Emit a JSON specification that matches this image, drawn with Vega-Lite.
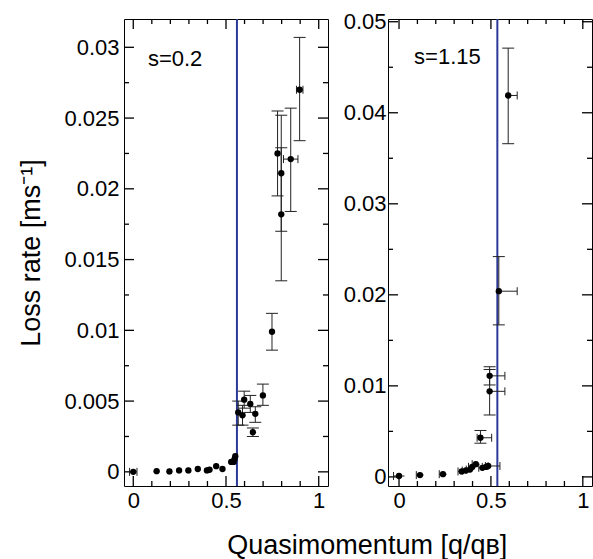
{
  "$schema": "https://vega.github.io/schema/vega-lite/v6.json",
  "padding": {"left": 17, "top": 10, "right": 0, "bottom": 0},
  "background": "white",
  "config": {
    "view": {"stroke": null},
    "font": "Liberation Sans",
    "rule": {"color": "black", "strokeWidth": 1.3},
    "axis": {"domainColor": "black", "tickColor": "black", "tickOpacity": 0, "labelColor": "black", "labelFont": "Liberation Sans", "labelFontSize": 22, "titleFont": "Liberation Sans", "titleFontSize": 27, "titleFontWeight": "normal", "titleColor": "black", "grid": false, "labelOverlap": false, "labelFlush": false, "labelBound": false}
  },
  "datasets": {
    "xt": [{"t": 0}, {"t": 0.1}, {"t": 0.2}, {"t": 0.3}, {"t": 0.4}, {"t": 0.5}, {"t": 0.6}, {"t": 0.7}, {"t": 0.8}, {"t": 0.9}, {"t": 1}],
    "ylt": [{"t": 0}, {"t": 0.0025}, {"t": 0.005}, {"t": 0.0075}, {"t": 0.01}, {"t": 0.0125}, {"t": 0.015}, {"t": 0.0175}, {"t": 0.02}, {"t": 0.0225}, {"t": 0.025}, {"t": 0.0275}, {"t": 0.03}],
    "yrt": [{"t": 0}, {"t": 0.005}, {"t": 0.01}, {"t": 0.015}, {"t": 0.02}, {"t": 0.025}, {"t": 0.03}, {"t": 0.035}, {"t": 0.04}, {"t": 0.045}, {"t": 0.05}],
    "left": [
      {"q": 0, "r": 0, "rlo": -0.0002, "rhi": 0.0002, "qlo": -0.02, "qhi": 0.02},
      {"q": 0.126, "r": 0.00005, "rlo": -0.00015, "rhi": 0.00025, "qlo": 0.11, "qhi": 0.142},
      {"q": 0.195, "r": 0.00003, "rlo": -0.00017, "rhi": 0.00023, "qlo": 0.18, "qhi": 0.21},
      {"q": 0.247, "r": 0.0001, "rlo": -0.0001, "rhi": 0.0003, "qlo": 0.232, "qhi": 0.262},
      {"q": 0.297, "r": 0.0001, "rlo": -0.0001, "rhi": 0.0003, "qlo": 0.282, "qhi": 0.312},
      {"q": 0.348, "r": 0.0002, "rlo": 0, "rhi": 0.0004, "qlo": 0.333, "qhi": 0.363},
      {"q": 0.397, "r": 0.0001, "rlo": -0.0001, "rhi": 0.0003, "qlo": 0.382, "qhi": 0.412},
      {"q": 0.411, "r": 0.00015, "rlo": -0.00005, "rhi": 0.00035, "qlo": 0.396, "qhi": 0.426},
      {"q": 0.447, "r": 0.0004, "rlo": 0.0002, "rhi": 0.0006, "qlo": 0.432, "qhi": 0.462},
      {"q": 0.481, "r": 0.0002, "rlo": 0, "rhi": 0.0004, "qlo": 0.466, "qhi": 0.496},
      {"q": 0.528, "r": 0.0007, "rlo": 0.0005, "rhi": 0.0009, "qlo": 0.513, "qhi": 0.543},
      {"q": 0.541, "r": 0.0007, "rlo": 0.0005, "rhi": 0.0009, "qlo": 0.526, "qhi": 0.556},
      {"q": 0.546, "r": 0.0009, "rlo": 0.0007, "rhi": 0.0011, "qlo": 0.531, "qhi": 0.561},
      {"q": 0.55, "r": 0.0011, "rlo": 0.0009, "rhi": 0.0013, "qlo": 0.535, "qhi": 0.565},
      {"q": 0.566, "r": 0.0042, "rlo": 0.0033, "rhi": 0.005, "qlo": 0.551, "qhi": 0.581},
      {"q": 0.589, "r": 0.004, "rlo": 0.0033, "rhi": 0.0047, "qlo": 0.574, "qhi": 0.604},
      {"q": 0.598, "r": 0.0051, "rlo": 0.0045, "rhi": 0.0057, "qlo": 0.583, "qhi": 0.613},
      {"q": 0.631, "r": 0.0048, "rlo": 0.0042, "rhi": 0.0054, "qlo": 0.616, "qhi": 0.646},
      {"q": 0.658, "r": 0.0041, "rlo": 0.0035, "rhi": 0.0046, "qlo": 0.643, "qhi": 0.673},
      {"q": 0.645, "r": 0.0028, "rlo": 0.0025, "rhi": 0.0031, "qlo": 0.63, "qhi": 0.66},
      {"q": 0.699, "r": 0.0054, "rlo": 0.0047, "rhi": 0.0062, "qlo": 0.684, "qhi": 0.714},
      {"q": 0.748, "r": 0.0099, "rlo": 0.0086, "rhi": 0.0112, "qlo": 0.735, "qhi": 0.761},
      {"q": 0.778, "r": 0.0225, "rlo": 0.0195, "rhi": 0.0255, "qlo": 0.765, "qhi": 0.791},
      {"q": 0.798, "r": 0.0211, "rlo": 0.017, "rhi": 0.0252, "qlo": 0.785, "qhi": 0.811},
      {"q": 0.798, "r": 0.0182, "rlo": 0.0135, "rhi": 0.0229, "qlo": 0.785, "qhi": 0.811},
      {"q": 0.849, "r": 0.0221, "rlo": 0.0184, "rhi": 0.0257, "qlo": 0.81, "qhi": 0.888},
      {"q": 0.897, "r": 0.027, "rlo": 0.0234, "rhi": 0.0307, "qlo": 0.88, "qhi": 0.915}
    ],
    "right": [
      {"q": 0, "r": 0.0001, "rlo": -0.0002, "rhi": 0.0004, "qlo": -0.03, "qhi": 0.03},
      {"q": 0.114, "r": 0.0002, "rlo": -0.0001, "rhi": 0.0005, "qlo": 0.094, "qhi": 0.134},
      {"q": 0.239, "r": 0.0003, "rlo": 0, "rhi": 0.0006, "qlo": 0.219, "qhi": 0.259},
      {"q": 0.341, "r": 0.0006, "rlo": 0.0003, "rhi": 0.0009, "qlo": 0.321, "qhi": 0.361},
      {"q": 0.364, "r": 0.0007, "rlo": 0.0004, "rhi": 0.001, "qlo": 0.344, "qhi": 0.384},
      {"q": 0.386, "r": 0.0008, "rlo": 0.0005, "rhi": 0.0011, "qlo": 0.366, "qhi": 0.406},
      {"q": 0.398, "r": 0.0011, "rlo": 0.0008, "rhi": 0.0014, "qlo": 0.378, "qhi": 0.418},
      {"q": 0.418, "r": 0.0014, "rlo": 0.0011, "rhi": 0.0017, "qlo": 0.398, "qhi": 0.438},
      {"q": 0.454, "r": 0.001, "rlo": 0.0007, "rhi": 0.0013, "qlo": 0.434, "qhi": 0.474},
      {"q": 0.473, "r": 0.0011, "rlo": 0.0008, "rhi": 0.0014, "qlo": 0.453, "qhi": 0.493},
      {"q": 0.485, "r": 0.0012, "rlo": 0.0008, "rhi": 0.0016, "qlo": 0.47, "qhi": 0.549},
      {"q": 0.443, "r": 0.0043, "rlo": 0.0037, "rhi": 0.0051, "qlo": 0.425, "qhi": 0.504},
      {"q": 0.493, "r": 0.0094, "rlo": 0.0068, "rhi": 0.0118, "qlo": 0.493, "qhi": 0.576},
      {"q": 0.493, "r": 0.0111, "rlo": 0.0101, "rhi": 0.0121, "qlo": 0.493, "qhi": 0.576},
      {"q": 0.543, "r": 0.0204, "rlo": 0.0167, "rhi": 0.0242, "qlo": 0.543, "qhi": 0.643},
      {"q": 0.594, "r": 0.0419, "rlo": 0.0366, "rhi": 0.0471, "qlo": 0.594, "qhi": 0.643}
    ]
  },
  "title": {"text": "Quasimomentum [q/qʙ]", "orient": "bottom", "anchor": "middle", "frame": "bounds", "dx": 62, "offset": 17, "fontSize": 27, "fontWeight": "normal", "font": "Liberation Sans", "color": "black"},
  "spacing": 14,
  "hconcat": [
    {
      "width": 204, "height": 467,
      "data": {"name": "left"},
      "resolve": {"axis": {"x": "independent", "y": "independent"}},
      "layer": [
        {
          "mark": {"type": "rule", "color": "#2b3a99", "strokeWidth": 2},
          "data": {"values": [{"qc": 0.559}]},
          "encoding": {
            "x": {"field": "qc", "type": "quantitative", "scale": {"domain": [-0.05, 1.05], "nice": false, "zero": false},
              "axis": {"orient": "top", "values": [0,0.1,0.2,0.3,0.4,0.5,0.6,0.7,0.8,0.9,1], "labels": false, "title": null, "tickSize": -8}}
          }
        },
        {"data": {"name": "xt"}, "transform": [{"filter": "indexof([0,0.5,1], datum.t) >= 0"}],
          "mark": {"type": "rule", "y2Offset": -10},
          "encoding": {"x": {"field": "t", "type": "quantitative", "axis": null}, "y": {"datum": -0.001, "type": "quantitative", "axis": null}, "y2": {"datum": -0.001}}},
        {"data": {"name": "xt"}, "transform": [{"filter": "indexof([0,0.5,1], datum.t) < 0"}],
          "mark": {"type": "rule", "y2Offset": -5},
          "encoding": {"x": {"field": "t", "type": "quantitative", "axis": null}, "y": {"datum": -0.001, "type": "quantitative", "axis": null}, "y2": {"datum": -0.001}}},
        {"data": {"name": "xt"}, "transform": [{"filter": "indexof([0,0.5,1], datum.t) >= 0"}],
          "mark": {"type": "rule", "y2Offset": 10},
          "encoding": {"x": {"field": "t", "type": "quantitative", "axis": null}, "y": {"datum": 0.032, "type": "quantitative", "axis": null}, "y2": {"datum": 0.032}}},
        {"data": {"name": "xt"}, "transform": [{"filter": "indexof([0,0.5,1], datum.t) < 0"}],
          "mark": {"type": "rule", "y2Offset": 5},
          "encoding": {"x": {"field": "t", "type": "quantitative", "axis": null}, "y": {"datum": 0.032, "type": "quantitative", "axis": null}, "y2": {"datum": 0.032}}},
        {"data": {"name": "ylt"}, "transform": [{"filter": "indexof([0,0.005,0.01,0.015,0.02,0.025,0.03], datum.t) >= 0"}],
          "mark": {"type": "rule", "x2Offset": 10},
          "encoding": {"y": {"field": "t", "type": "quantitative", "axis": null}, "x": {"datum": -0.05, "type": "quantitative", "axis": null}, "x2": {"datum": -0.05}}},
        {"data": {"name": "ylt"}, "transform": [{"filter": "indexof([0,0.005,0.01,0.015,0.02,0.025,0.03], datum.t) < 0"}],
          "mark": {"type": "rule", "x2Offset": 5},
          "encoding": {"y": {"field": "t", "type": "quantitative", "axis": null}, "x": {"datum": -0.05, "type": "quantitative", "axis": null}, "x2": {"datum": -0.05}}},
        {"data": {"name": "ylt"}, "transform": [{"filter": "indexof([0,0.005,0.01,0.015,0.02,0.025,0.03], datum.t) >= 0"}],
          "mark": {"type": "rule", "x2Offset": -10},
          "encoding": {"y": {"field": "t", "type": "quantitative", "axis": null}, "x": {"datum": 1.05, "type": "quantitative", "axis": null}, "x2": {"datum": 1.05}}},
        {"data": {"name": "ylt"}, "transform": [{"filter": "indexof([0,0.005,0.01,0.015,0.02,0.025,0.03], datum.t) < 0"}],
          "mark": {"type": "rule", "x2Offset": -5},
          "encoding": {"y": {"field": "t", "type": "quantitative", "axis": null}, "x": {"datum": 1.05, "type": "quantitative", "axis": null}, "x2": {"datum": 1.05}}},
        {
          "mark": {"type": "rule", "color": "#222", "strokeWidth": 1},
          "encoding": {
            "x": {"field": "q", "type": "quantitative", "axis": null},
            "y": {"field": "rlo", "type": "quantitative", "axis": null},
            "y2": {"field": "rhi"}
          }
        },
        {
          "mark": {"type": "rule", "color": "#222", "strokeWidth": 1},
          "encoding": {
            "y": {"field": "r", "type": "quantitative", "axis": null},
            "x": {"field": "qlo", "type": "quantitative", "axis": null},
            "x2": {"field": "qhi"}
          }
        },
        {
          "transform": [{"filter": "datum.rhi - datum.rlo > 0.0005"}],
          "mark": {"type": "rule", "color": "#222", "strokeWidth": 1, "xOffset": -6, "x2Offset": 6},
          "encoding": {
            "x": {"field": "q", "type": "quantitative", "axis": null},
            "x2": {"field": "q"},
            "y": {"field": "rlo", "type": "quantitative", "axis": null}
          }
        },
        {
          "transform": [{"filter": "datum.rhi - datum.rlo > 0.0005"}],
          "mark": {"type": "rule", "color": "#222", "strokeWidth": 1, "xOffset": -6, "x2Offset": 6},
          "encoding": {
            "x": {"field": "q", "type": "quantitative", "axis": null},
            "x2": {"field": "q"},
            "y": {"field": "rhi", "type": "quantitative", "axis": null}
          }
        },
        {
          "transform": [{"filter": "datum.qhi - datum.qlo > 0.032"}],
          "mark": {"type": "rule", "color": "#222", "strokeWidth": 1, "yOffset": -4, "y2Offset": 4},
          "encoding": {
            "x": {"field": "qhi", "type": "quantitative", "axis": null},
            "y": {"field": "r", "type": "quantitative", "axis": null},
            "y2": {"field": "r"}
          }
        },
        {
          "transform": [{"filter": "datum.qhi - datum.qlo > 0.032"}],
          "mark": {"type": "rule", "color": "#222", "strokeWidth": 1, "yOffset": -4, "y2Offset": 4},
          "encoding": {
            "x": {"field": "qlo", "type": "quantitative", "axis": null},
            "y": {"field": "r", "type": "quantitative", "axis": null},
            "y2": {"field": "r"}
          }
        },
        {
          "mark": {"type": "text", "text": "s=0.2", "fontSize": 22, "align": "left", "baseline": "middle", "color": "black"},
          "data": {"values": [{"lq": 0.079, "lr": 0.0292}]},
          "encoding": {
            "x": {"field": "lq", "type": "quantitative", "axis": null},
            "y": {"field": "lr", "type": "quantitative",
              "axis": {"orient": "right", "values": [0,0.0025,0.005,0.0075,0.01,0.0125,0.015,0.0175,0.02,0.0225,0.025,0.0275,0.03], "labels": false, "title": null, "tickSize": -8}}
          }
        },
        {
          "mark": {"type": "circle", "size": 40, "color": "black", "opacity": 1},
          "encoding": {
            "x": {"field": "q", "type": "quantitative", "scale": {"domain": [-0.05, 1.05], "nice": false, "zero": false},
              "axis": {"orient": "bottom", "values": [0,0.1,0.2,0.3,0.4,0.5,0.6,0.7,0.8,0.9,1], "format": "~g", "title": null, "labelPadding": 14,
                "labelExpr": "datum.value == 0 || datum.value == 0.5 || datum.value == 1 ? datum.label : ''",
                "tickSize": {"condition": {"test": "datum.value == 0 || datum.value == 0.5 || datum.value == 1", "value": -10}, "value": -5}}},
            "y": {"field": "r", "type": "quantitative", "scale": {"domain": [-0.001, 0.032], "nice": false, "zero": false},
              "axis": {"orient": "left", "values": [0,0.0025,0.005,0.0075,0.01,0.0125,0.015,0.0175,0.02,0.0225,0.025,0.0275,0.03], "format": "~g",
                "title": "Loss rate [ms⁻¹]", "titlePadding": 18, "labelPadding": 15,
                "labelExpr": "indexof([0,0.005,0.01,0.015,0.02,0.025,0.03], datum.value) >= 0 ? datum.label : ''",
                "tickSize": {"condition": {"test": "indexof([0,0.005,0.01,0.015,0.02,0.025,0.03], datum.value) >= 0", "value": -10}, "value": -5}}}
          }
        }
      ]
    },
    {
      "width": 204, "height": 467,
      "data": {"name": "right"},
      "resolve": {"axis": {"x": "independent", "y": "independent"}},
      "layer": [
        {
          "mark": {"type": "rule", "color": "#2b3a99", "strokeWidth": 2},
          "data": {"values": [{"qc": 0.535}]},
          "encoding": {
            "x": {"field": "qc", "type": "quantitative", "scale": {"domain": [-0.06, 1.05], "nice": false, "zero": false},
              "axis": {"orient": "top", "values": [0,0.1,0.2,0.3,0.4,0.5,0.6,0.7,0.8,0.9,1], "labels": false, "title": null, "tickSize": -8}}
          }
        },
        {"data": {"name": "xt"}, "transform": [{"filter": "indexof([0,0.5,1], datum.t) >= 0"}],
          "mark": {"type": "rule", "y2Offset": -10},
          "encoding": {"x": {"field": "t", "type": "quantitative", "axis": null}, "y": {"datum": -0.001, "type": "quantitative", "axis": null}, "y2": {"datum": -0.001}}},
        {"data": {"name": "xt"}, "transform": [{"filter": "indexof([0,0.5,1], datum.t) < 0"}],
          "mark": {"type": "rule", "y2Offset": -5},
          "encoding": {"x": {"field": "t", "type": "quantitative", "axis": null}, "y": {"datum": -0.001, "type": "quantitative", "axis": null}, "y2": {"datum": -0.001}}},
        {"data": {"name": "xt"}, "transform": [{"filter": "indexof([0,0.5,1], datum.t) >= 0"}],
          "mark": {"type": "rule", "y2Offset": 10},
          "encoding": {"x": {"field": "t", "type": "quantitative", "axis": null}, "y": {"datum": 0.0503, "type": "quantitative", "axis": null}, "y2": {"datum": 0.0503}}},
        {"data": {"name": "xt"}, "transform": [{"filter": "indexof([0,0.5,1], datum.t) < 0"}],
          "mark": {"type": "rule", "y2Offset": 5},
          "encoding": {"x": {"field": "t", "type": "quantitative", "axis": null}, "y": {"datum": 0.0503, "type": "quantitative", "axis": null}, "y2": {"datum": 0.0503}}},
        {"data": {"name": "yrt"}, "transform": [{"filter": "indexof([0,0.01,0.02,0.03,0.04,0.05], datum.t) >= 0"}],
          "mark": {"type": "rule", "x2Offset": 10},
          "encoding": {"y": {"field": "t", "type": "quantitative", "axis": null}, "x": {"datum": -0.06, "type": "quantitative", "axis": null}, "x2": {"datum": -0.06}}},
        {"data": {"name": "yrt"}, "transform": [{"filter": "indexof([0,0.01,0.02,0.03,0.04,0.05], datum.t) < 0"}],
          "mark": {"type": "rule", "x2Offset": 5},
          "encoding": {"y": {"field": "t", "type": "quantitative", "axis": null}, "x": {"datum": -0.06, "type": "quantitative", "axis": null}, "x2": {"datum": -0.06}}},
        {"data": {"name": "yrt"}, "transform": [{"filter": "indexof([0,0.01,0.02,0.03,0.04,0.05], datum.t) >= 0"}],
          "mark": {"type": "rule", "x2Offset": -10},
          "encoding": {"y": {"field": "t", "type": "quantitative", "axis": null}, "x": {"datum": 1.05, "type": "quantitative", "axis": null}, "x2": {"datum": 1.05}}},
        {"data": {"name": "yrt"}, "transform": [{"filter": "indexof([0,0.01,0.02,0.03,0.04,0.05], datum.t) < 0"}],
          "mark": {"type": "rule", "x2Offset": -5},
          "encoding": {"y": {"field": "t", "type": "quantitative", "axis": null}, "x": {"datum": 1.05, "type": "quantitative", "axis": null}, "x2": {"datum": 1.05}}},
        {
          "mark": {"type": "rule", "color": "#222", "strokeWidth": 1},
          "encoding": {
            "x": {"field": "q", "type": "quantitative", "axis": null},
            "y": {"field": "rlo", "type": "quantitative", "axis": null},
            "y2": {"field": "rhi"}
          }
        },
        {
          "mark": {"type": "rule", "color": "#222", "strokeWidth": 1},
          "encoding": {
            "y": {"field": "r", "type": "quantitative", "axis": null},
            "x": {"field": "qlo", "type": "quantitative", "axis": null},
            "x2": {"field": "qhi"}
          }
        },
        {
          "transform": [{"filter": "datum.rhi - datum.rlo > 0.0008"}],
          "mark": {"type": "rule", "color": "#222", "strokeWidth": 1, "xOffset": -6, "x2Offset": 6},
          "encoding": {
            "x": {"field": "q", "type": "quantitative", "axis": null},
            "x2": {"field": "q"},
            "y": {"field": "rlo", "type": "quantitative", "axis": null}
          }
        },
        {
          "transform": [{"filter": "datum.rhi - datum.rlo > 0.0008"}],
          "mark": {"type": "rule", "color": "#222", "strokeWidth": 1, "xOffset": -6, "x2Offset": 6},
          "encoding": {
            "x": {"field": "q", "type": "quantitative", "axis": null},
            "x2": {"field": "q"},
            "y": {"field": "rhi", "type": "quantitative", "axis": null}
          }
        },
        {
          "transform": [{"filter": "datum.qhi - datum.q > 0.032"}],
          "mark": {"type": "rule", "color": "#222", "strokeWidth": 1, "yOffset": -4, "y2Offset": 4},
          "encoding": {
            "x": {"field": "qhi", "type": "quantitative", "axis": null},
            "y": {"field": "r", "type": "quantitative", "axis": null},
            "y2": {"field": "r"}
          }
        },
        {
          "transform": [{"filter": "datum.q - datum.qlo > 0.015"}],
          "mark": {"type": "rule", "color": "#222", "strokeWidth": 1, "yOffset": -4, "y2Offset": 4},
          "encoding": {
            "x": {"field": "qlo", "type": "quantitative", "axis": null},
            "y": {"field": "r", "type": "quantitative", "axis": null},
            "y2": {"field": "r"}
          }
        },
        {
          "mark": {"type": "text", "text": "s=1.15", "fontSize": 22, "align": "left", "baseline": "middle", "color": "black"},
          "data": {"values": [{"lq": 0.082, "lr": 0.0461}]},
          "encoding": {
            "x": {"field": "lq", "type": "quantitative", "axis": null},
            "y": {"field": "lr", "type": "quantitative",
              "axis": {"orient": "right", "values": [0,0.005,0.01,0.015,0.02,0.025,0.03,0.035,0.04,0.045,0.05], "labels": false, "title": null, "tickSize": -8}}
          }
        },
        {
          "mark": {"type": "circle", "size": 40, "color": "black", "opacity": 1},
          "encoding": {
            "x": {"field": "q", "type": "quantitative", "scale": {"domain": [-0.06, 1.05], "nice": false, "zero": false},
              "axis": {"orient": "bottom", "values": [0,0.1,0.2,0.3,0.4,0.5,0.6,0.7,0.8,0.9,1], "format": "~g", "title": null, "labelPadding": 14,
                "labelExpr": "datum.value == 0 || datum.value == 0.5 || datum.value == 1 ? datum.label : ''",
                "tickSize": {"condition": {"test": "datum.value == 0 || datum.value == 0.5 || datum.value == 1", "value": -10}, "value": -5}}},
            "y": {"field": "r", "type": "quantitative", "scale": {"domain": [-0.001, 0.0503], "nice": false, "zero": false},
              "axis": {"orient": "left", "values": [0,0.005,0.01,0.015,0.02,0.025,0.03,0.035,0.04,0.045,0.05], "format": "~g",
                "title": null, "labelPadding": 12,
                "labelExpr": "indexof([0,0.01,0.02,0.03,0.04,0.05], datum.value) >= 0 ? datum.label : ''",
                "tickSize": {"condition": {"test": "indexof([0,0.01,0.02,0.03,0.04,0.05], datum.value) >= 0", "value": -10}, "value": -5}}}
          }
        }
      ]
    }
  ]
}
